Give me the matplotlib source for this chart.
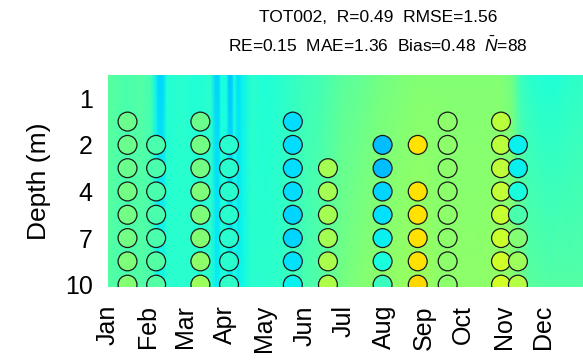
import matplotlib
matplotlib.use("Agg")
import matplotlib.pyplot as plt
import numpy as np

plt.rcParams["font.family"] = ["Liberation Sans", "DejaVu Sans"]
plt.rcParams["mathtext.fontset"] = "custom"
plt.rcParams["mathtext.rm"] = "Liberation Sans"
plt.rcParams["mathtext.it"] = "Liberation Sans:italic"

# depth levels (rows, top to bottom) and which ones get a tick label
depth_levels = [1, 1.5, 2, 3, 4, 5.5, 7, 8.5, 10]
depth_ticks = [1, 2, 4, 7, 10]

months = ["Jan", "Feb", "Mar", "Apr", "May", "Jun",
          "Jul", "Aug", "Sep", "Oct", "Nov", "Dec"]
month_start_day = [1, 32, 60, 91, 121, 152, 182, 213, 244, 274, 305, 335]

# model background, read along the year (surface row and bottom row)
bg_days = [1, 15, 26, 34, 38, 40, 44, 46, 57, 68,
           80, 84, 86, 88, 92, 94, 96, 98, 101, 104,
           111, 122, 134, 149, 164, 180, 195, 210, 226, 241,
           256, 272, 287, 302, 311, 318, 325, 341, 356, 366]
bg_surface = [4.6, 4.4, 4.5, 4.3, 3.6, 3.3, 3.4, 3.9, 4.0, 3.9,
              4.0, 3.3, 3.3, 3.8, 3.8, 3.2, 3.2, 3.8, 3.4, 3.6,
              4.0, 3.9, 4.0, 4.2, 4.3, 4.6, 4.7, 4.9, 5.0, 5.1,
              5.1, 5.1, 5.1, 5.1, 4.9, 4.2, 4.0, 3.9, 4.0, 4.1]
bg_bottom = [4.5, 4.4, 4.5, 4.4, 3.9, 3.7, 3.8, 4.0, 4.0, 4.0,
             4.0, 3.6, 3.6, 3.9, 3.8, 3.6, 3.6, 3.8, 3.6, 3.7,
             4.0, 4.0, 4.1, 4.3, 4.5, 4.9, 5.1, 5.2, 5.3, 5.4,
             5.2, 5.2, 5.2, 5.3, 5.2, 4.9, 4.6, 4.5, 4.5, 4.5]

# observations: sampling day and value per depth level (nan = no sample)
nan = np.nan
obs_days = [16, 38, 72, 94, 143, 170, 212, 239, 262, 303, 316]
obs_values = [
    [nan, 4.8, 4.8, 4.8, 4.9, 4.9, 4.9, 5.0, 5.1],
    [nan, nan, 4.4, 4.4, 4.4, 4.4, 4.4, 4.5, 4.5],
    [nan, 4.8, 4.9, 4.9, 5.0, 5.0, 5.1, 5.2, 5.4],
    [nan, nan, 4.0, 4.0, 4.0, 4.0, 4.0, 4.0, 4.1],
    [nan, 3.4, 3.4, 3.4, 3.4, 3.35, 3.35, 3.45, 3.6],
    [nan, nan, nan, 5.5, 5.5, 5.5, 5.5, 5.55, 5.6],
    [nan, nan, 3.1, 3.1, 3.35, 3.45, 3.6, 3.8, 4.2],
    [nan, nan, 6.7, nan, 6.7, 6.7, 6.7, 6.7, 6.8],
    [nan, 5.2, 5.2, 5.2, 5.2, 5.2, 5.2, 5.2, 5.2],
    [nan, 5.75, 5.75, 5.8, 5.85, 5.9, 5.95, 6.0, 6.05],
    [nan, nan, 3.6, 3.6, 3.8, 4.4, 5.1, 5.4, 5.7],
]

vmin, vmax = 0, 10
y_top, y_bot = -1.0, 8.1

fig = plt.figure(figsize=(5.83, 3.64), dpi=100)
ax = fig.add_axes([108 / 583, 1 - 287 / 364, 1 - 108 / 583, (287 - 75) / 364])

# background field
X, Y = np.meshgrid(bg_days, [y_top, y_bot])
C = np.array([bg_surface, bg_bottom])
ax.pcolormesh(X, Y, C, cmap="jet", vmin=vmin, vmax=vmax, shading="gouraud")

# observed circles
for day, vals in zip(obs_days, obs_values):
    vals = np.array(vals)
    rows = np.arange(len(vals))
    ok = ~np.isnan(vals)
    ax.scatter(np.full(ok.sum(), day), rows[ok], c=vals[ok], cmap="jet",
               vmin=vmin, vmax=vmax, s=185, edgecolors="#1a1a1a",
               linewidths=0.9, zorder=3, clip_on=True)

ax.set_xlim(1, 366)
ax.set_ylim(y_bot, y_top)

ax.set_xticks(month_start_day)
ax.set_xticklabels(months, rotation=90, fontsize=18)
ax.set_yticks([depth_levels.index(d) for d in depth_ticks])
ax.set_yticklabels([str(d) for d in depth_ticks], fontsize=18)
ax.tick_params(axis="y", length=0, pad=11)
ax.tick_params(axis="x", length=0, pad=13)
for s in ax.spines.values():
    s.set_visible(False)

ax.set_ylabel("Depth (m)", fontsize=19, labelpad=10)

fig.text(0.648, 0.953, "TOT002,  R=0.49  RMSE=1.56",
         ha="center", va="center", fontsize=12.5)
fig.text(0.648, 0.876, r"RE=0.15  MAE=1.36  Bias=0.48  $\bar{N}$=88",
         ha="center", va="center", fontsize=12.5)

fig.savefig("out.png", dpi=100)
